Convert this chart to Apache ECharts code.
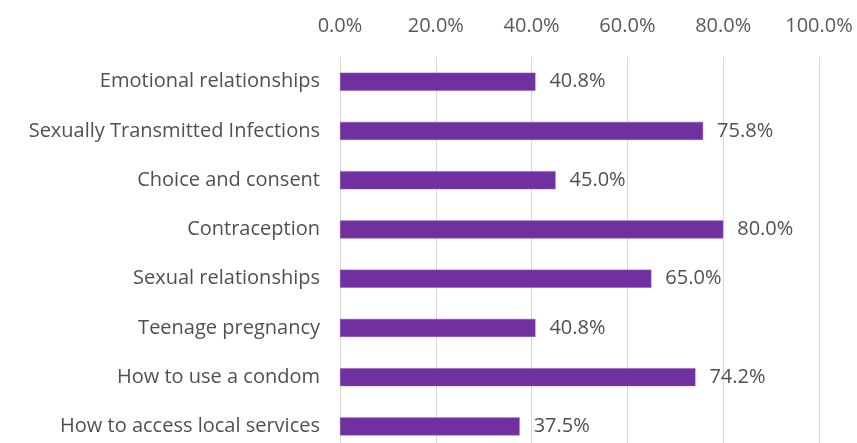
<!DOCTYPE html>
<html>
<head>
<meta charset="utf-8">
<script src="https://cdn.jsdelivr.net/npm/echarts@6/dist/echarts.min.js"></script>
<style>
  html, body { margin: 0; padding: 0; background: #fff; overflow: hidden; }
  #chart { width: 857px; height: 452px; }
</style>
</head>
<body>
<div id="chart"></div>
<script>
// Topics covered, top to bottom
const categories = [
  'Emotional relationships',
  'Sexually Transmitted Infections',
  'Choice and consent',
  'Contraception',
  'Sexual relationships',
  'Teenage pregnancy',
  'How to use a condom',
  'How to access local services'
];
// Share of respondents (%)
const values = [40.8, 75.8, 45.0, 80.0, 65.0, 40.8, 74.2, 37.5];

const FONT = '"Open Sans"';
const TEXT = '#505050';

const chart = echarts.init(document.getElementById('chart'), null, { renderer: 'canvas' });
chart.setOption({
  animation: false,
  grid: { left: 340, right: 38, top: 57, bottom: 1, containLabel: false },
  xAxis: {
    type: 'value',
    position: 'top',
    min: 0,
    max: 100,
    interval: 20,
    axisLine: { show: false },
    axisTick: { show: false },
    axisLabel: {
      margin: 21,
      color: '#595959',
      fontFamily: FONT,
      fontSize: 20,
      formatter: v => v.toFixed(1) + '%'
    },
    splitLine: { lineStyle: { color: '#d9d9d9', width: 1 } }
  },
  yAxis: {
    type: 'category',
    data: categories,
    inverse: true,
    axisLine: { show: false },
    axisTick: { show: false },
    axisLabel: {
      margin: 20,
      color: TEXT,
      fontFamily: FONT,
      fontSize: 20
    }
  },
  series: [{
    type: 'bar',
    data: values,
    barWidth: 18,
    itemStyle: { color: '#7030A0', borderColor: '#8a55b5', borderWidth: 0.5 },
    label: {
      show: true,
      position: 'right',
      distance: 14,
      color: TEXT,
      fontFamily: FONT,
      fontSize: 20,
      formatter: p => p.value.toFixed(1) + '%'
    }
  }]
});
</script>
</body>
</html>
